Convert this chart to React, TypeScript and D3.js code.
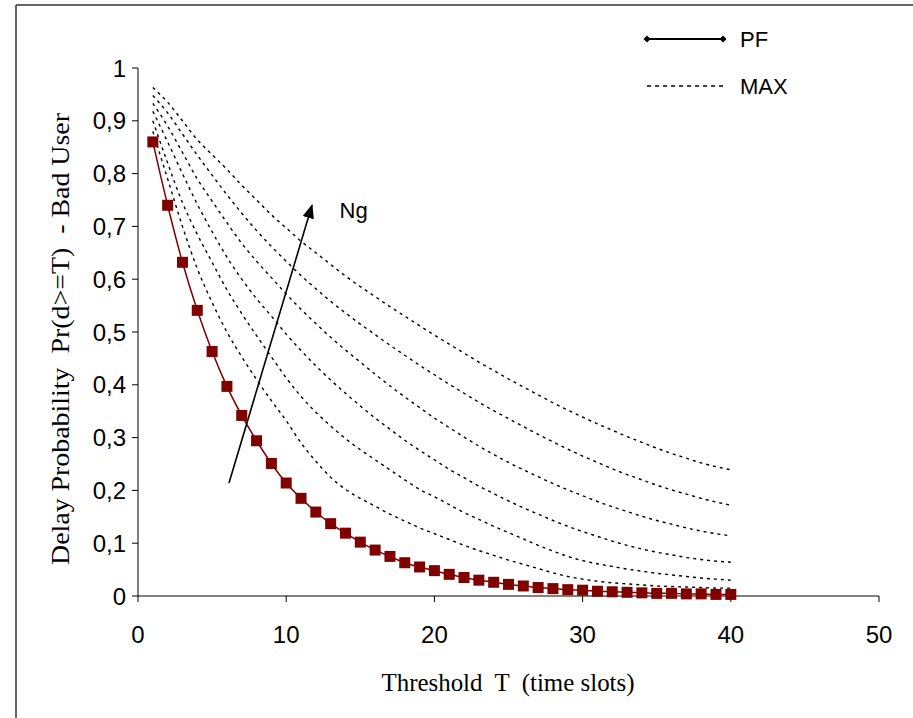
import React from "react";
import * as d3 from "d3";

const thresholds = d3.range(1, 41);

const pfValues = [
  0.86, 0.74, 0.632, 0.541, 0.463, 0.397, 0.342, 0.294, 0.251, 0.214,
  0.185, 0.159, 0.137, 0.119, 0.102, 0.087, 0.075, 0.063, 0.055, 0.048,
  0.041, 0.035, 0.03, 0.026, 0.022, 0.019, 0.016, 0.014, 0.012, 0.011,
  0.009, 0.008, 0.007, 0.006, 0.005, 0.005, 0.004, 0.004, 0.003, 0.003,
];

const max1 = [
  0.963, 0.935, 0.9, 0.864, 0.836, 0.808, 0.778, 0.75, 0.722, 0.697,
  0.672, 0.65, 0.628, 0.606, 0.586, 0.567, 0.548, 0.53, 0.512, 0.494,
  0.477, 0.46, 0.443, 0.427, 0.411, 0.396, 0.381, 0.366, 0.352, 0.339,
  0.326, 0.314, 0.302, 0.291, 0.28, 0.27, 0.261, 0.252, 0.245, 0.239,
];
const max2 = [
  0.948, 0.915, 0.875, 0.835, 0.797, 0.76, 0.725, 0.692, 0.662, 0.634,
  0.607, 0.582, 0.558, 0.536, 0.515, 0.495, 0.475, 0.456, 0.437, 0.419,
  0.401, 0.384, 0.367, 0.351, 0.336, 0.321, 0.306, 0.292, 0.278, 0.265,
  0.253, 0.241, 0.23, 0.22, 0.21, 0.201, 0.193, 0.185, 0.178, 0.172,
];
const max3 = [
  0.933, 0.89, 0.84, 0.79, 0.748, 0.707, 0.668, 0.634, 0.603, 0.572,
  0.543, 0.516, 0.49, 0.466, 0.443, 0.42, 0.398, 0.377, 0.357, 0.337,
  0.319, 0.301, 0.284, 0.268, 0.253, 0.239, 0.226, 0.213, 0.201, 0.19,
  0.179, 0.169, 0.16, 0.151, 0.143, 0.136, 0.129, 0.123, 0.118, 0.114,
];
const max4 = [
  0.918, 0.86, 0.8, 0.742, 0.69, 0.642, 0.6, 0.563, 0.53, 0.496,
  0.465, 0.436, 0.409, 0.384, 0.36, 0.337, 0.316, 0.295, 0.276, 0.258,
  0.24, 0.224, 0.208, 0.194, 0.18, 0.167, 0.155, 0.143, 0.132, 0.122,
  0.113, 0.104, 0.096, 0.089, 0.083, 0.078, 0.073, 0.069, 0.066, 0.064,
];
const max5 = [
  0.9, 0.82, 0.745, 0.685, 0.632, 0.58, 0.535, 0.493, 0.453, 0.413,
  0.378, 0.348, 0.322, 0.298, 0.277, 0.258, 0.239, 0.22, 0.202, 0.188,
  0.173, 0.158, 0.145, 0.132, 0.12, 0.108, 0.096, 0.085, 0.075, 0.067,
  0.061, 0.056, 0.051, 0.047, 0.043, 0.04, 0.037, 0.034, 0.032, 0.03,
];
const max6 = [
  0.88, 0.79, 0.7, 0.62, 0.556, 0.5, 0.453, 0.41, 0.37, 0.332,
  0.29, 0.255, 0.225, 0.202, 0.185, 0.17, 0.155, 0.142, 0.129, 0.118,
  0.107, 0.096, 0.086, 0.077, 0.068, 0.06, 0.052, 0.044, 0.037, 0.032,
  0.028, 0.025, 0.023, 0.021, 0.019, 0.018, 0.017, 0.016, 0.015, 0.015,
];
const maxSeries = [max1, max2, max3, max4, max5, max6];

const xTicks = [0, 10, 20, 30, 40, 50];
const yTicks = [0, 0.1, 0.2, 0.3, 0.4, 0.5, 0.6, 0.7, 0.8, 0.9, 1];
const yTickLabels = ["0", "0,1", "0,2", "0,3", "0,4", "0,5", "0,6", "0,7", "0,8", "0,9", "1"];

// Arrow annotation (data coordinates)
const arrowFrom = { t: 6.14, v: 0.214 };
const arrowTo = { t: 11.74, v: 0.74 };
const ngLabel = { t: 13.6, v: 0.715 };

export default function App() {
  const W = 913;
  const H = 718;
  const x = d3.scaleLinear().domain([0, 50]).range([138, 879]);
  const y = d3.scaleLinear().domain([0, 1]).range([596, 68]);

  const line = d3
    .line<number>()
    .x((_, i) => x(thresholds[i]))
    .y((d) => y(d))
    .curve(d3.curveMonotoneX);

  const sans = "'Liberation Sans', Arial, sans-serif";
  const serif = "'Liberation Serif', 'Times New Roman', serif";

  return (
    <svg
      width={W}
      height={H}
      style={{ position: "absolute", left: 0, top: 0, background: "#fff" }}
    >
      <defs>
        <marker id="ah" viewBox="0 0 10 10" refX="9" refY="5" markerWidth="9" markerHeight="9" orient="auto">
          <path d="M0,1 L10,5 L0,9 Z" fill="#000" />
        </marker>
      </defs>
      <rect x={0} y={0} width={W} height={H} fill="#fff" />
      {/* frame */}
      <line x1={16} y1={5} x2={913} y2={5} stroke="#333" strokeWidth={1.5} />
      <line x1={16} y1={5} x2={16} y2={718} stroke="#333" strokeWidth={1.5} />

      {/* axes */}
      <line x1={x(0)} y1={y(0)} x2={x(50)} y2={y(0)} stroke="#808080" strokeWidth={2} />
      <line x1={x(0)} y1={y(0)} x2={x(0)} y2={y(1)} stroke="#000" strokeWidth={1} />
      {xTicks.map((t) => (
        <g key={"xt" + t}>
          <line x1={x(t)} y1={y(0)} x2={x(t)} y2={y(0) + 6} stroke="#000" strokeWidth={1} />
          <text
            x={x(t)}
            y={y(0) + 47}
            textAnchor="middle"
            fontFamily={sans}
            fontSize={24}
            fill="#000"
          >
            {t}
          </text>
        </g>
      ))}
      {yTicks.map((v, i) => (
        <g key={"yt" + i}>
          <line x1={x(0) - 6} y1={y(v)} x2={x(0)} y2={y(v)} stroke="#000" strokeWidth={1} />
          <text
            x={x(0) - 12}
            y={y(v) + 8.5}
            textAnchor="end"
            fontFamily={sans}
            fontSize={24}
            fill="#000"
          >
            {yTickLabels[i]}
          </text>
        </g>
      ))}

      {/* MAX dashed curves */}
      {maxSeries.map((s, i) => (
        <path
          key={"m" + i}
          d={line(s) || ""}
          fill="none"
          stroke="#000"
          strokeWidth={1.4}
          strokeDasharray="3,4"
        />
      ))}

      {/* PF curve */}
      <path d={line(pfValues) || ""} fill="none" stroke="#800000" strokeWidth={1.5} />
      {pfValues.map((v, i) => (
        <rect
          key={"p" + i}
          x={x(thresholds[i]) - 5.5}
          y={y(v) - 5.5}
          width={11}
          height={11}
          fill="#800000"
        />
      ))}

      {/* arrow annotation */}
      <line
        x1={x(arrowFrom.t)}
        y1={y(arrowFrom.v)}
        x2={x(arrowTo.t)}
        y2={y(arrowTo.v)}
        stroke="#000"
        strokeWidth={1.6}
        markerEnd="url(#ah)"
      />
      <text x={x(ngLabel.t)} y={y(ngLabel.v)} fontFamily={sans} fontSize={22} fill="#000">
        Ng
      </text>

      {/* legend */}
      <line x1={647} y1={39} x2={723} y2={39} stroke="#000" strokeWidth={2} />
      <path d="M647,35.5 L650.5,39 L647,42.5 L643.5,39 Z" fill="#000" />
      <path d="M723,35.5 L726.5,39 L723,42.5 L719.5,39 Z" fill="#000" />
      <text x={740} y={47} fontFamily={sans} fontSize={22} fill="#000">PF</text>
      <line x1={647} y1={86} x2={723} y2={86} stroke="#000" strokeWidth={1.3} strokeDasharray="4,4" />
      <text x={740} y={94} fontFamily={sans} fontSize={22} fill="#000">MAX</text>

      {/* axis titles */}
      <text
        x={508}
        y={691}
        textAnchor="middle"
        fontFamily={serif}
        fontSize={25}
        fill="#000"
        textLength={253}
        lengthAdjust="spacingAndGlyphs"
        style={{ whiteSpace: "pre" }}
      >
        {"Threshold  T  (time slots)"}
      </text>
      <text
        transform="translate(69,339) rotate(-90)"
        textAnchor="middle"
        fontFamily={serif}
        fontSize={25}
        fill="#000"
        textLength={452}
        lengthAdjust="spacingAndGlyphs"
        style={{ whiteSpace: "pre" }}
      >
        {"Delay Probability  Pr(d>=T)  - Bad User"}
      </text>
    </svg>
  );
}
